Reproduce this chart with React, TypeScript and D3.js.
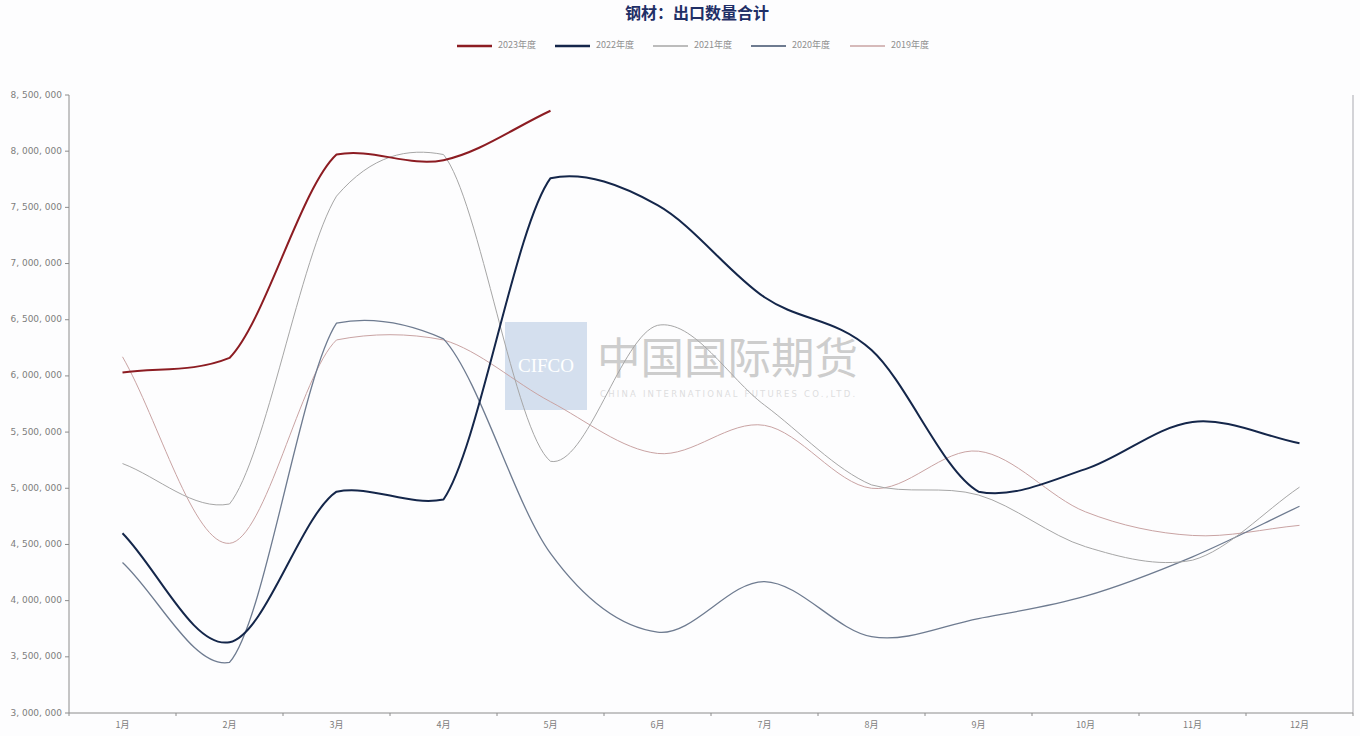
import React from "react";
import * as d3 from "d3";

const months = ["1月", "2月", "3月", "4月", "5月", "6月", "7月", "8月", "9月", "10月", "11月", "12月"];
const yTicks = [3000000, 3500000, 4000000, 4500000, 5000000, 5500000, 6000000, 6500000, 7000000, 7500000, 8000000, 8500000];

const s2023 = [6030000, 6160000, 7970000, 7920000, 8360000];
const s2022 = [4600000, 3630000, 4970000, 4900000, 7760000, 7520000, 6700000, 6230000, 4970000, 5170000, 5590000, 5400000];
const s2021 = [5220000, 4860000, 7600000, 7970000, 5240000, 6450000, 5740000, 5030000, 4940000, 4480000, 4360000, 5010000];
const s2020 = [4340000, 3450000, 6470000, 6330000, 4420000, 3720000, 4170000, 3680000, 3840000, 4040000, 4390000, 4840000];
const s2019 = [6170000, 4510000, 6320000, 6320000, 5770000, 5310000, 5560000, 5000000, 5330000, 4790000, 4580000, 4670000];

const seriesNames = ["2023年度", "2022年度", "2021年度", "2020年度", "2019年度"];
const seriesData = [s2023, s2022, s2021, s2020, s2019];
const seriesColors = ["#8c1c22", "#14264a", "#a6a6a6", "#6e7b90", "#c9a3a3"];
const seriesWidths = [2, 2, 1, 1.3, 1];

// Catmull-Rom style cubic: a control point may overshoot its own (near) point slightly,
// but never passes beyond the value of the far end of the segment.
function softClampCurve(context: any) {
  let xs: number[] = [];
  let ys: number[] = [];
  const margin = 7;
  const limit = (c: number, near: number, far: number) => {
    if (far >= near) {
      // far is "above" in screen units
      if (c > far) return far;
      if (c < near - margin) return near - margin;
      return c;
    }
    if (c < far) return far;
    if (c > near + margin) return near + margin;
    return c;
  };
  return {
    areaStart() {},
    areaEnd() {},
    lineStart() {
      xs = [];
      ys = [];
    },
    point(x: number, y: number) {
      xs.push(+x);
      ys.push(+y);
    },
    lineEnd() {
      const n = xs.length;
      if (!n) return;
      context.moveTo(xs[0], ys[0]);
      const tan = (i: number) => {
        const a = Math.max(0, i - 1);
        const b = Math.min(n - 1, i + 1);
        return (ys[b] - ys[a]) / (xs[b] - xs[a]);
      };
      for (let i = 0; i < n - 1; i++) {
        const h = xs[i + 1] - xs[i];
        let c1 = ys[i] + (tan(i) * h) / 3;
        let c2 = ys[i + 1] - (tan(i + 1) * h) / 3;
        c1 = limit(c1, ys[i], ys[i + 1]);
        c2 = limit(c2, ys[i + 1], ys[i]);
        context.bezierCurveTo(xs[i] + h / 3, c1, xs[i + 1] - h / 3, c2, xs[i + 1], ys[i + 1]);
      }
    },
  };
}

export default function App() {
  const W = 1360;
  const H = 736;
  const left = 69;
  const right = 1353;
  const top = 95;
  const bottom = 713;

  const x = d3.scaleBand<string>().domain(months).range([left, right]).padding(0);
  const bw = x.bandwidth();
  const cx = (i: number) => (x(months[i]) as number) + bw / 2;
  const y = d3.scaleLinear().domain([3000000, 8500000]).range([bottom, top]);

  const line = d3
    .line<number>()
    .x((_, i) => cx(i))
    .y((d) => y(d))
    .curve(softClampCurve as any);

  const fmt = (v: number) => d3.format(",")(v).replace(/,/g, ", ");
  const boundaries = months.map((m) => x(m) as number).concat([right]);

  const legendX = [457, 555, 653, 751, 850];

  return (
    <svg
      width={W}
      height={H}
      style={{ position: "absolute", left: 0, top: 0, background: "#ffffff" }}
      fontFamily="DejaVu Sans, sans-serif"
    >
      <rect x={0} y={0} width={W} height={H} fill="#fdfdfe" />
      {/* title */}
      <text
        x={697}
        y={19}
        textAnchor="middle"
        fontFamily="Noto Sans CJK SC"
        fontWeight="bold"
        fontSize={16}
        fill="#1f2f66"
      >
        钢材：出口数量合计
      </text>

      {/* legend */}
      {seriesNames.map((name, i) => (
        <g key={name}>
          <line
            x1={legendX[i]}
            x2={legendX[i] + 35}
            y1={46}
            y2={46}
            stroke={seriesColors[i]}
            strokeWidth={seriesWidths[i] + 0.5}
          />
          <text
            x={legendX[i] + 41}
            y={46}
            dominantBaseline="middle"
            fontSize={9}
            fill="#8f8f8f"
            fontFamily="Noto Sans CJK SC"
          >
            {name}
          </text>
        </g>
      ))}

      {/* watermark */}
      <g>
        <rect x={505} y={322} width={82} height={88} fill="#c5d4e8" opacity={0.75} />
        <text x={546} y={368} textAnchor="middle" dominantBaseline="middle" fontSize={19} fill="#ffffff" fontFamily="Liberation Serif">
          CIFCO
        </text>
        <text x={597} y={362} dominantBaseline="middle" fontSize={43.5} fill="#cdcdcd" fontFamily="Noto Sans CJK SC">
          中国国际期货
        </text>
        <text x={600} y={394} dominantBaseline="middle" fontSize={8.5} fill="#dedede" letterSpacing={2.2}>
          CHINA INTERNATIONAL FUTURES CO.,LTD.
        </text>
      </g>

      {/* right border */}
      <line x1={right} x2={right} y1={top} y2={bottom} stroke="#a9a9b0" strokeWidth={1} />

      {/* y axis */}
      <line x1={left} x2={left} y1={top} y2={bottom} stroke="#8c8c8c" strokeWidth={1} />
      {yTicks.map((t) => (
        <g key={t}>
          <line x1={left - 4} x2={left} y1={y(t)} y2={y(t)} stroke="#8c8c8c" />
          <text x={left - 7} y={y(t)} textAnchor="end" dominantBaseline="middle" fontSize={9} fill="#7d7d7d">
            {fmt(t)}
          </text>
        </g>
      ))}

      {/* x axis */}
      <line x1={left} x2={right} y1={bottom} y2={bottom} stroke="#8c8c8c" strokeWidth={1} />
      {boundaries.map((b, i) => (
        <line key={i} x1={b} x2={b} y1={bottom} y2={bottom + 3} stroke="#8c8c8c" />
      ))}
      {months.map((m, i) => (
        <text
          key={m}
          x={cx(i)}
          y={726}
          textAnchor="middle"
          dominantBaseline="middle"
          fontSize={9}
          fill="#7d7d7d"
          fontFamily="Noto Sans CJK SC"
        >
          {m}
        </text>
      ))}

      {/* series, draw oldest first */}
      {seriesData
        .map((d, i) => ({ d, i }))
        .reverse()
        .map(({ d, i }) => (
          <path
            key={seriesNames[i]}
            d={line(d) || ""}
            fill="none"
            stroke={seriesColors[i]}
            strokeWidth={seriesWidths[i]}
            strokeLinejoin="round"
          />
        ))}
    </svg>
  );
}
